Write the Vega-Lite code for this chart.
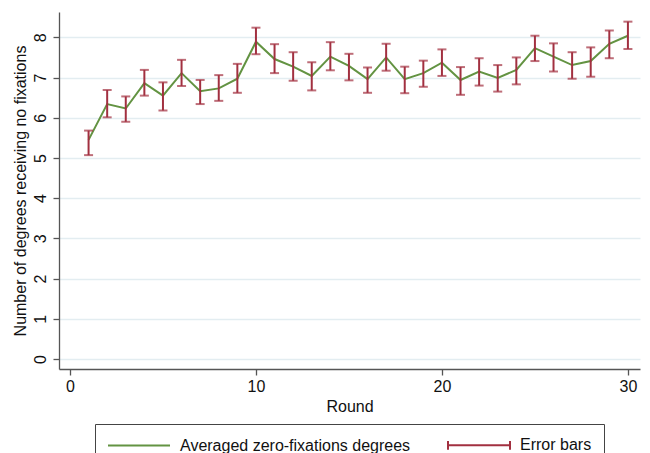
{
  "$schema": "https://vega.github.io/schema/vega-lite/v6.json",
  "autosize": "none",
  "padding": {"left": 59, "top": 12, "right": 10, "bottom": 90},
  "width": 581,
  "height": 357,
  "background": "white",
  "config": {
    "font": "Liberation Sans",
    "view": {"stroke": null},
    "axis": {"labelFont": "Liberation Sans", "titleFont": "Liberation Sans", "labelFontSize": 16, "titleFontSize": 16, "titleFontWeight": "normal", "labelColor": "#111", "titleColor": "#111", "domainColor": "#555", "tickColor": "#555", "tickSize": 6, "domainWidth": 1.3, "tickWidth": 1.3},
    "legend": {"labelFont": "Liberation Sans", "labelFontSize": 16, "labelColor": "#111", "layout": {"bottom": {"anchor": "middle"}}}
  },
  "data": {"values": [
    {"round": 1, "mean": 5.45, "lo": 5.07, "hi": 5.68},
    {"round": 2, "mean": 6.34, "lo": 6.01, "hi": 6.69},
    {"round": 3, "mean": 6.23, "lo": 5.90, "hi": 6.53},
    {"round": 4, "mean": 6.86, "lo": 6.55, "hi": 7.19},
    {"round": 5, "mean": 6.55, "lo": 6.18, "hi": 6.88},
    {"round": 6, "mean": 7.11, "lo": 6.79, "hi": 7.44},
    {"round": 7, "mean": 6.66, "lo": 6.34, "hi": 6.94},
    {"round": 8, "mean": 6.73, "lo": 6.42, "hi": 7.06},
    {"round": 9, "mean": 6.97, "lo": 6.62, "hi": 7.34},
    {"round": 10, "mean": 7.89, "lo": 7.58, "hi": 8.24},
    {"round": 11, "mean": 7.46, "lo": 7.11, "hi": 7.83},
    {"round": 12, "mean": 7.27, "lo": 6.92, "hi": 7.63},
    {"round": 13, "mean": 7.04, "lo": 6.68, "hi": 7.38},
    {"round": 14, "mean": 7.52, "lo": 7.18, "hi": 7.88},
    {"round": 15, "mean": 7.29, "lo": 6.93, "hi": 7.59},
    {"round": 16, "mean": 6.96, "lo": 6.62, "hi": 7.25},
    {"round": 17, "mean": 7.50, "lo": 7.17, "hi": 7.84},
    {"round": 18, "mean": 6.96, "lo": 6.61, "hi": 7.27},
    {"round": 19, "mean": 7.11, "lo": 6.77, "hi": 7.42},
    {"round": 20, "mean": 7.37, "lo": 7.04, "hi": 7.70},
    {"round": 21, "mean": 6.94, "lo": 6.57, "hi": 7.26},
    {"round": 22, "mean": 7.15, "lo": 6.80, "hi": 7.48},
    {"round": 23, "mean": 6.99, "lo": 6.65, "hi": 7.31},
    {"round": 24, "mean": 7.19, "lo": 6.83, "hi": 7.50},
    {"round": 25, "mean": 7.73, "lo": 7.41, "hi": 8.04},
    {"round": 26, "mean": 7.52, "lo": 7.15, "hi": 7.85},
    {"round": 27, "mean": 7.31, "lo": 6.97, "hi": 7.63},
    {"round": 28, "mean": 7.41, "lo": 7.02, "hi": 7.75},
    {"round": 29, "mean": 7.84, "lo": 7.48, "hi": 8.17},
    {"round": 30, "mean": 8.04, "lo": 7.71, "hi": 8.39}
  ]},
  "encoding": {
    "x": {"field": "round", "type": "quantitative", "scale": {"domain": [-0.59, 30.65], "nice": false, "zero": false},
      "axis": {"title": "Round", "values": [0, 10, 20, 30], "grid": false, "labelPadding": 3, "titlePadding": 4}}
  },
  "layer": [
    {
      "mark": {"type": "line", "strokeWidth": 2},
      "encoding": {
        "y": {"field": "mean", "type": "quantitative", "scale": {"domain": [-0.25, 8.63], "nice": false, "zero": false},
          "axis": {"title": "Number of degrees receiving no fixations", "values": [0, 1, 2, 3, 4, 5, 6, 7, 8], "grid": true, "gridColor": "#e3edf1", "gridWidth": 1.5, "labelAngle": 270, "labelAlign": "center", "labelBaseline": "bottom", "labelPadding": 5, "titlePadding": 4}},
        "color": {"datum": "Averaged zero-fixations degrees", "type": "nominal",
          "scale": {"domain": ["Averaged zero-fixations degrees", "Error bars"], "range": ["#639342", "#a23040"]},
          "legend": {"title": null, "orient": "bottom", "direction": "horizontal", "offset": 10, "padding": 12, "strokeColor": "#444", "fillColor": "white", "labelLimit": 400, "columnPadding": 33, "symbolSize": 256, "symbolStrokeWidth": 2, "labelOffset": 55, "symbolType": "M-1,0H6.75",
            "encode": {"symbols": {"update": {"shape": {"signal": "datum.value === 'Error bars' ? 'M-1,0H6.75M-1,-0.55V0.55M6.75,-0.55V0.55' : 'M-1,0H6.75'"}}}}}}
      }
    },
    {
      "mark": {"type": "rule", "strokeWidth": 2},
      "encoding": {
        "y": {"field": "lo", "type": "quantitative"},
        "y2": {"field": "hi"},
        "color": {"datum": "Error bars", "type": "nominal"}
      }
    },
    {
      "mark": {"type": "tick", "orient": "horizontal", "size": 9, "thickness": 2},
      "encoding": {
        "y": {"field": "lo", "type": "quantitative"},
        "color": {"datum": "Error bars", "type": "nominal"}
      }
    },
    {
      "mark": {"type": "tick", "orient": "horizontal", "size": 9, "thickness": 2},
      "encoding": {
        "y": {"field": "hi", "type": "quantitative"},
        "color": {"datum": "Error bars", "type": "nominal"}
      }
    }
  ]
}
